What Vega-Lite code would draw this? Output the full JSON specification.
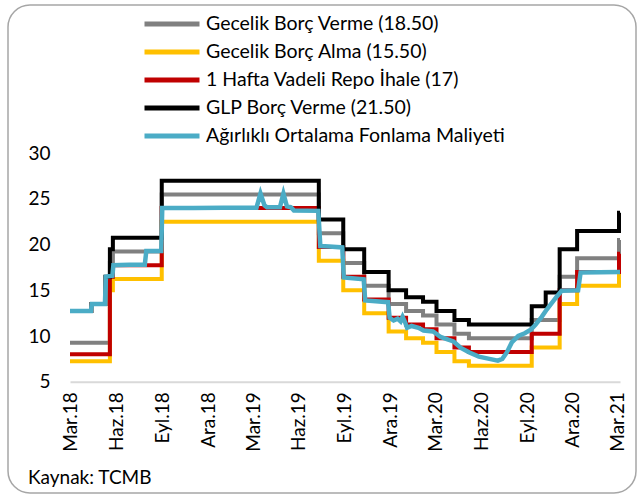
{
  "$schema": "https://vega.github.io/schema/vega-lite/v6.json",
  "width": 628,
  "height": 488,
  "autosize": {"type": "none"},
  "padding": {"left": 8, "top": 5, "right": 1, "bottom": 2},
  "background": "white",
  "config": {
    "view": {"stroke": "#a6a6a6", "strokeWidth": 1.5, "cornerRadius": 22},
    "font": "Lato"
  },
  "title": {
    "text": "Kaynak: TCMB",
    "orient": "bottom",
    "anchor": "start",
    "frame": "group",
    "offset": -24,
    "dx": 20,
    "fontSize": 19,
    "fontWeight": "normal",
    "color": "black",
    "font": "Lato"
  },
  "data": {
    "values": [
      {"s": "\u00a0Gecelik Borç Verme (18.50)", "d": "2018-03-13", "v": 9.25},
      {"s": "\u00a0Gecelik Borç Verme (18.50)", "d": "2018-06-01", "v": 18.0},
      {"s": "\u00a0Gecelik Borç Verme (18.50)", "d": "2018-06-07", "v": 19.25},
      {"s": "\u00a0Gecelik Borç Verme (18.50)", "d": "2018-09-13", "v": 25.5},
      {"s": "\u00a0Gecelik Borç Verme (18.50)", "d": "2019-07-25", "v": 21.25},
      {"s": "\u00a0Gecelik Borç Verme (18.50)", "d": "2019-09-12", "v": 18.0},
      {"s": "\u00a0Gecelik Borç Verme (18.50)", "d": "2019-10-24", "v": 15.5},
      {"s": "\u00a0Gecelik Borç Verme (18.50)", "d": "2019-12-12", "v": 13.5},
      {"s": "\u00a0Gecelik Borç Verme (18.50)", "d": "2020-01-16", "v": 12.75},
      {"s": "\u00a0Gecelik Borç Verme (18.50)", "d": "2020-02-19", "v": 12.25},
      {"s": "\u00a0Gecelik Borç Verme (18.50)", "d": "2020-03-17", "v": 11.25},
      {"s": "\u00a0Gecelik Borç Verme (18.50)", "d": "2020-04-22", "v": 10.25},
      {"s": "\u00a0Gecelik Borç Verme (18.50)", "d": "2020-05-21", "v": 9.75},
      {"s": "\u00a0Gecelik Borç Verme (18.50)", "d": "2020-09-24", "v": 11.75},
      {"s": "\u00a0Gecelik Borç Verme (18.50)", "d": "2020-11-19", "v": 16.5},
      {"s": "\u00a0Gecelik Borç Verme (18.50)", "d": "2020-12-24", "v": 18.5},
      {"s": "\u00a0Gecelik Borç Verme (18.50)", "d": "2021-03-18", "v": 20.5},
      {"s": "\u00a0Gecelik Borç Verme (18.50)", "d": "2021-03-20", "v": 20.5},

      {"s": "\u00a0Gecelik Borç Alma (15.50)", "d": "2018-03-13", "v": 7.25},
      {"s": "\u00a0Gecelik Borç Alma (15.50)", "d": "2018-06-01", "v": 15.0},
      {"s": "\u00a0Gecelik Borç Alma (15.50)", "d": "2018-06-07", "v": 16.25},
      {"s": "\u00a0Gecelik Borç Alma (15.50)", "d": "2018-09-13", "v": 22.5},
      {"s": "\u00a0Gecelik Borç Alma (15.50)", "d": "2019-07-25", "v": 18.25},
      {"s": "\u00a0Gecelik Borç Alma (15.50)", "d": "2019-09-12", "v": 15.0},
      {"s": "\u00a0Gecelik Borç Alma (15.50)", "d": "2019-10-24", "v": 12.5},
      {"s": "\u00a0Gecelik Borç Alma (15.50)", "d": "2019-12-12", "v": 10.5},
      {"s": "\u00a0Gecelik Borç Alma (15.50)", "d": "2020-01-16", "v": 9.75},
      {"s": "\u00a0Gecelik Borç Alma (15.50)", "d": "2020-02-19", "v": 9.25},
      {"s": "\u00a0Gecelik Borç Alma (15.50)", "d": "2020-03-17", "v": 8.25},
      {"s": "\u00a0Gecelik Borç Alma (15.50)", "d": "2020-04-22", "v": 7.25},
      {"s": "\u00a0Gecelik Borç Alma (15.50)", "d": "2020-05-21", "v": 6.75},
      {"s": "\u00a0Gecelik Borç Alma (15.50)", "d": "2020-09-24", "v": 8.75},
      {"s": "\u00a0Gecelik Borç Alma (15.50)", "d": "2020-11-19", "v": 13.5},
      {"s": "\u00a0Gecelik Borç Alma (15.50)", "d": "2020-12-24", "v": 15.5},
      {"s": "\u00a0Gecelik Borç Alma (15.50)", "d": "2021-03-18", "v": 17.5},
      {"s": "\u00a0Gecelik Borç Alma (15.50)", "d": "2021-03-20", "v": 17.5},

      {"s": "1 Hafta Vadeli Repo İhale (17)", "d": "2018-03-13", "v": 8.0},
      {"s": "1 Hafta Vadeli Repo İhale (17)", "d": "2018-06-01", "v": 16.5},
      {"s": "1 Hafta Vadeli Repo İhale (17)", "d": "2018-06-07", "v": 17.75},
      {"s": "1 Hafta Vadeli Repo İhale (17)", "d": "2018-09-13", "v": 24.0},
      {"s": "1 Hafta Vadeli Repo İhale (17)", "d": "2019-07-25", "v": 19.75},
      {"s": "1 Hafta Vadeli Repo İhale (17)", "d": "2019-09-12", "v": 16.5},
      {"s": "1 Hafta Vadeli Repo İhale (17)", "d": "2019-10-24", "v": 14.0},
      {"s": "1 Hafta Vadeli Repo İhale (17)", "d": "2019-12-12", "v": 12.0},
      {"s": "1 Hafta Vadeli Repo İhale (17)", "d": "2020-01-16", "v": 11.25},
      {"s": "1 Hafta Vadeli Repo İhale (17)", "d": "2020-02-19", "v": 10.75},
      {"s": "1 Hafta Vadeli Repo İhale (17)", "d": "2020-03-17", "v": 9.75},
      {"s": "1 Hafta Vadeli Repo İhale (17)", "d": "2020-04-22", "v": 8.75},
      {"s": "1 Hafta Vadeli Repo İhale (17)", "d": "2020-05-21", "v": 8.25},
      {"s": "1 Hafta Vadeli Repo İhale (17)", "d": "2020-09-24", "v": 10.25},
      {"s": "1 Hafta Vadeli Repo İhale (17)", "d": "2020-11-19", "v": 15.0},
      {"s": "1 Hafta Vadeli Repo İhale (17)", "d": "2020-12-24", "v": 17.0},
      {"s": "1 Hafta Vadeli Repo İhale (17)", "d": "2021-03-18", "v": 19.0},
      {"s": "1 Hafta Vadeli Repo İhale (17)", "d": "2021-03-20", "v": 19.0},

      {"s": "GLP Borç Verme (21.50)", "d": "2018-03-13", "v": 12.75},
      {"s": "GLP Borç Verme (21.50)", "d": "2018-04-25", "v": 13.5},
      {"s": "GLP Borç Verme (21.50)", "d": "2018-05-23", "v": 16.5},
      {"s": "GLP Borç Verme (21.50)", "d": "2018-06-01", "v": 19.5},
      {"s": "GLP Borç Verme (21.50)", "d": "2018-06-07", "v": 20.75},
      {"s": "GLP Borç Verme (21.50)", "d": "2018-09-13", "v": 27.0},
      {"s": "GLP Borç Verme (21.50)", "d": "2019-07-25", "v": 22.75},
      {"s": "GLP Borç Verme (21.50)", "d": "2019-09-12", "v": 19.5},
      {"s": "GLP Borç Verme (21.50)", "d": "2019-10-24", "v": 17.0},
      {"s": "GLP Borç Verme (21.50)", "d": "2019-12-12", "v": 15.0},
      {"s": "GLP Borç Verme (21.50)", "d": "2020-01-16", "v": 14.25},
      {"s": "GLP Borç Verme (21.50)", "d": "2020-02-19", "v": 13.75},
      {"s": "GLP Borç Verme (21.50)", "d": "2020-03-17", "v": 12.75},
      {"s": "GLP Borç Verme (21.50)", "d": "2020-04-22", "v": 11.75},
      {"s": "GLP Borç Verme (21.50)", "d": "2020-05-21", "v": 11.25},
      {"s": "GLP Borç Verme (21.50)", "d": "2020-09-24", "v": 13.25},
      {"s": "GLP Borç Verme (21.50)", "d": "2020-10-22", "v": 14.75},
      {"s": "GLP Borç Verme (21.50)", "d": "2020-11-19", "v": 19.5},
      {"s": "GLP Borç Verme (21.50)", "d": "2020-12-24", "v": 21.5},
      {"s": "GLP Borç Verme (21.50)", "d": "2021-03-18", "v": 23.5},
      {"s": "GLP Borç Verme (21.50)", "d": "2021-03-20", "v": 23.5},

      {"s": "Ağırlıklı Ortalama Fonlama Maliyeti", "d": "2018-03-13", "v": 12.75},
      {"s": "Ağırlıklı Ortalama Fonlama Maliyeti", "d": "2018-04-24", "v": 12.75},
      {"s": "Ağırlıklı Ortalama Fonlama Maliyeti", "d": "2018-04-26", "v": 13.5},
      {"s": "Ağırlıklı Ortalama Fonlama Maliyeti", "d": "2018-05-22", "v": 13.5},
      {"s": "Ağırlıklı Ortalama Fonlama Maliyeti", "d": "2018-05-24", "v": 16.5},
      {"s": "Ağırlıklı Ortalama Fonlama Maliyeti", "d": "2018-06-06", "v": 16.6},
      {"s": "Ağırlıklı Ortalama Fonlama Maliyeti", "d": "2018-06-08", "v": 17.75},
      {"s": "Ağırlıklı Ortalama Fonlama Maliyeti", "d": "2018-07-10", "v": 17.8},
      {"s": "Ağırlıklı Ortalama Fonlama Maliyeti", "d": "2018-08-10", "v": 17.8},
      {"s": "Ağırlıklı Ortalama Fonlama Maliyeti", "d": "2018-08-13", "v": 19.3},
      {"s": "Ağırlıklı Ortalama Fonlama Maliyeti", "d": "2018-09-12", "v": 19.3},
      {"s": "Ağırlıklı Ortalama Fonlama Maliyeti", "d": "2018-09-14", "v": 24.0},
      {"s": "Ağırlıklı Ortalama Fonlama Maliyeti", "d": "2018-11-15", "v": 24.0},
      {"s": "Ağırlıklı Ortalama Fonlama Maliyeti", "d": "2019-01-15", "v": 24.05},
      {"s": "Ağırlıklı Ortalama Fonlama Maliyeti", "d": "2019-03-22", "v": 24.05},
      {"s": "Ağırlıklı Ortalama Fonlama Maliyeti", "d": "2019-03-30", "v": 25.6},
      {"s": "Ağırlıklı Ortalama Fonlama Maliyeti", "d": "2019-04-07", "v": 24.3},
      {"s": "Ağırlıklı Ortalama Fonlama Maliyeti", "d": "2019-04-12", "v": 24.1},
      {"s": "Ağırlıklı Ortalama Fonlama Maliyeti", "d": "2019-05-08", "v": 24.1},
      {"s": "Ağırlıklı Ortalama Fonlama Maliyeti", "d": "2019-05-15", "v": 25.6},
      {"s": "Ağırlıklı Ortalama Fonlama Maliyeti", "d": "2019-05-22", "v": 24.2},
      {"s": "Ağırlıklı Ortalama Fonlama Maliyeti", "d": "2019-05-30", "v": 24.1},
      {"s": "Ağırlıklı Ortalama Fonlama Maliyeti", "d": "2019-06-05", "v": 23.75},
      {"s": "Ağırlıklı Ortalama Fonlama Maliyeti", "d": "2019-07-24", "v": 23.7},
      {"s": "Ağırlıklı Ortalama Fonlama Maliyeti", "d": "2019-07-28", "v": 19.85},
      {"s": "Ağırlıklı Ortalama Fonlama Maliyeti", "d": "2019-08-15", "v": 19.8},
      {"s": "Ağırlıklı Ortalama Fonlama Maliyeti", "d": "2019-09-10", "v": 19.7},
      {"s": "Ağırlıklı Ortalama Fonlama Maliyeti", "d": "2019-09-13", "v": 16.4},
      {"s": "Ağırlıklı Ortalama Fonlama Maliyeti", "d": "2019-10-23", "v": 16.2},
      {"s": "Ağırlıklı Ortalama Fonlama Maliyeti", "d": "2019-10-26", "v": 13.9},
      {"s": "Ağırlıklı Ortalama Fonlama Maliyeti", "d": "2019-12-11", "v": 13.7},
      {"s": "Ağırlıklı Ortalama Fonlama Maliyeti", "d": "2019-12-14", "v": 12.0},
      {"s": "Ağırlıklı Ortalama Fonlama Maliyeti", "d": "2019-12-22", "v": 11.7},
      {"s": "Ağırlıklı Ortalama Fonlama Maliyeti", "d": "2019-12-30", "v": 11.9},
      {"s": "Ağırlıklı Ortalama Fonlama Maliyeti", "d": "2020-01-05", "v": 11.6},
      {"s": "Ağırlıklı Ortalama Fonlama Maliyeti", "d": "2020-01-09", "v": 12.1},
      {"s": "Ağırlıklı Ortalama Fonlama Maliyeti", "d": "2020-01-14", "v": 11.5},
      {"s": "Ağırlıklı Ortalama Fonlama Maliyeti", "d": "2020-01-18", "v": 10.9},
      {"s": "Ağırlıklı Ortalama Fonlama Maliyeti", "d": "2020-01-27", "v": 11.1},
      {"s": "Ağırlıklı Ortalama Fonlama Maliyeti", "d": "2020-02-10", "v": 10.9},
      {"s": "Ağırlıklı Ortalama Fonlama Maliyeti", "d": "2020-02-20", "v": 10.6},
      {"s": "Ağırlıklı Ortalama Fonlama Maliyeti", "d": "2020-03-10", "v": 10.5},
      {"s": "Ağırlıklı Ortalama Fonlama Maliyeti", "d": "2020-03-18", "v": 10.2},
      {"s": "Ağırlıklı Ortalama Fonlama Maliyeti", "d": "2020-03-25", "v": 9.9},
      {"s": "Ağırlıklı Ortalama Fonlama Maliyeti", "d": "2020-04-20", "v": 9.4},
      {"s": "Ağırlıklı Ortalama Fonlama Maliyeti", "d": "2020-05-05", "v": 8.7},
      {"s": "Ağırlıklı Ortalama Fonlama Maliyeti", "d": "2020-05-22", "v": 8.2},
      {"s": "Ağırlıklı Ortalama Fonlama Maliyeti", "d": "2020-06-10", "v": 7.75},
      {"s": "Ağırlıklı Ortalama Fonlama Maliyeti", "d": "2020-07-01", "v": 7.5},
      {"s": "Ağırlıklı Ortalama Fonlama Maliyeti", "d": "2020-07-18", "v": 7.3},
      {"s": "Ağırlıklı Ortalama Fonlama Maliyeti", "d": "2020-07-27", "v": 7.5},
      {"s": "Ağırlıklı Ortalama Fonlama Maliyeti", "d": "2020-08-05", "v": 8.2},
      {"s": "Ağırlıklı Ortalama Fonlama Maliyeti", "d": "2020-08-15", "v": 9.3},
      {"s": "Ağırlıklı Ortalama Fonlama Maliyeti", "d": "2020-08-28", "v": 10.0},
      {"s": "Ağırlıklı Ortalama Fonlama Maliyeti", "d": "2020-09-10", "v": 10.3},
      {"s": "Ağırlıklı Ortalama Fonlama Maliyeti", "d": "2020-09-22", "v": 10.7},
      {"s": "Ağırlıklı Ortalama Fonlama Maliyeti", "d": "2020-10-01", "v": 11.2},
      {"s": "Ağırlıklı Ortalama Fonlama Maliyeti", "d": "2020-10-14", "v": 12.1},
      {"s": "Ağırlıklı Ortalama Fonlama Maliyeti", "d": "2020-10-24", "v": 12.9},
      {"s": "Ağırlıklı Ortalama Fonlama Maliyeti", "d": "2020-11-03", "v": 13.6},
      {"s": "Ağırlıklı Ortalama Fonlama Maliyeti", "d": "2020-11-13", "v": 14.3},
      {"s": "Ağırlıklı Ortalama Fonlama Maliyeti", "d": "2020-11-23", "v": 14.95},
      {"s": "Ağırlıklı Ortalama Fonlama Maliyeti", "d": "2020-12-26", "v": 15.0},
      {"s": "Ağırlıklı Ortalama Fonlama Maliyeti", "d": "2020-12-31", "v": 16.95},
      {"s": "Ağırlıklı Ortalama Fonlama Maliyeti", "d": "2021-03-20", "v": 17.0}
    ]
  },
  "encoding": {
    "x": {
      "field": "d",
      "type": "temporal",
      "scale": {
        "type": "utc",
        "domain": [
          {"year": 2018, "month": 3, "date": 13, "utc": true},
          {"year": 2021, "month": 3, "date": 20, "utc": true}
        ],
        "range": [62, 612]
      },
      "axis": {
        "title": null,
        "values": [
          {"year": 2018, "month": 3, "date": 15, "utc": true},
          {"year": 2018, "month": 6, "date": 15, "utc": true},
          {"year": 2018, "month": 9, "date": 15, "utc": true},
          {"year": 2018, "month": 12, "date": 15, "utc": true},
          {"year": 2019, "month": 3, "date": 15, "utc": true},
          {"year": 2019, "month": 6, "date": 15, "utc": true},
          {"year": 2019, "month": 9, "date": 15, "utc": true},
          {"year": 2019, "month": 12, "date": 15, "utc": true},
          {"year": 2020, "month": 3, "date": 15, "utc": true},
          {"year": 2020, "month": 6, "date": 15, "utc": true},
          {"year": 2020, "month": 9, "date": 15, "utc": true},
          {"year": 2020, "month": 12, "date": 15, "utc": true},
          {"year": 2021, "month": 3, "date": 15, "utc": true}
        ],
        "labelExpr": "['Oca','Şub','Mar','Nis','May','Haz','Tem','Ağu','Eyl','Eki','Kas','Ara'][utcmonth(datum.value)] + '.' + utcFormat(datum.value, '%y')",
        "labelAngle": -90,
        "labelFontSize": 19,
        "labelFont": "Lato",
        "labelColor": "black",
        "labelPadding": 10,
        "labelOverlap": false,
        "labelFlush": false,
        "labelBound": false,
        "ticks": false,
        "tickSize": 0,
        "grid": false,
        "domainColor": "#d9d9d9",
        "domainWidth": 2,
        "offset": -111.3
      }
    },
    "y": {
      "field": "v",
      "type": "quantitative",
      "scale": {"domain": [5, 30], "range": [376.7, 148.3], "zero": false, "nice": false},
      "axis": {
        "title": null,
        "values": [5, 10, 15, 20, 25, 30],
        "domain": false,
        "ticks": false,
        "tickSize": 0,
        "grid": false,
        "labelPadding": 0,
        "labelFlush": false,
        "labelFontSize": 19,
        "labelFont": "Lato",
        "labelColor": "black",
        "offset": -42
      }
    },
    "color": {
      "field": "s",
      "type": "nominal",
      "scale": {
        "domain": [
          "\u00a0Gecelik Borç Verme (18.50)",
          "\u00a0Gecelik Borç Alma (15.50)",
          "1 Hafta Vadeli Repo İhale (17)",
          "GLP Borç Verme (21.50)",
          "Ağırlıklı Ortalama Fonlama Maliyeti"
        ],
        "range": ["#808080", "#FFC000", "#C00000", "#000000", "#4BACC6"]
      },
      "legend": {
        "title": null,
        "orient": "none",
        "legendX": 134,
        "legendY": 5,
        "direction": "vertical",
        "symbolType": "stroke",
        "symbolSize": 3025,
        "symbolStrokeWidth": 5,
        "labelFontSize": 19.5,
        "labelFont": "Lato",
        "labelColor": "black",
        "labelOffset": 4,
        "labelLimit": 500,
        "clipHeight": 28,
        "rowPadding": 0,
        "padding": 0
      }
    }
  },
  "layer": [
    {
      "transform": [{"filter": "datum.s !== 'Ağırlıklı Ortalama Fonlama Maliyeti'"}],
      "mark": {"type": "line", "interpolate": "step-after", "strokeWidth": 4}
    },
    {
      "transform": [{"filter": "datum.s === 'Ağırlıklı Ortalama Fonlama Maliyeti'"}],
      "mark": {"type": "line", "strokeWidth": 4.5}
    }
  ]
}
